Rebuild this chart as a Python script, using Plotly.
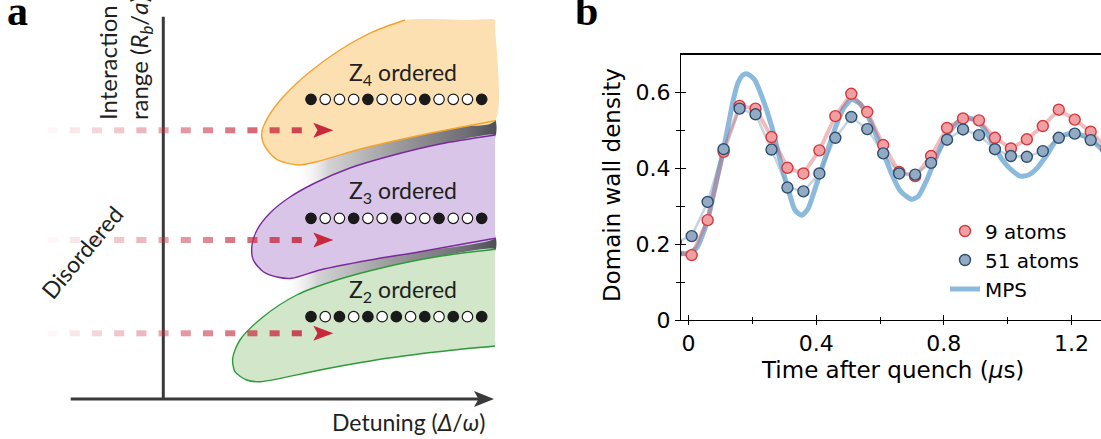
import plotly.graph_objects as go

W, H = 1101, 439

# ---------------- panel b data ----------------
T_MEAS = [-0.04, 0.01, 0.06, 0.11, 0.16, 0.21, 0.26, 0.31, 0.36, 0.41, 0.46, 0.51, 0.56, 0.61,
          0.66, 0.71, 0.76, 0.81, 0.86, 0.91, 0.96, 1.01, 1.06, 1.11, 1.16, 1.21, 1.26, 1.31]
DW_9 = [0.175, 0.171, 0.263, 0.443, 0.564, 0.557, 0.482, 0.401, 0.386, 0.447, 0.537, 0.596, 0.548, 0.461,
        0.390, 0.379, 0.432, 0.506, 0.531, 0.526, 0.480, 0.452, 0.476, 0.511, 0.554, 0.528, 0.496, 0.455]
DW_51 = [0.205, 0.221, 0.311, 0.450, 0.557, 0.542, 0.449, 0.349, 0.339, 0.386, 0.480, 0.535, 0.503, 0.439,
         0.386, 0.383, 0.414, 0.475, 0.502, 0.487, 0.450, 0.432, 0.430, 0.445, 0.480, 0.491, 0.474, 0.447]
T_MPS = [-0.03, 0.0, 0.026, 0.046, 0.062, 0.078, 0.094, 0.109, 0.125, 0.140, 0.156, 0.170, 0.182, 0.195,
         0.208, 0.234, 0.261, 0.287, 0.313, 0.334, 0.355, 0.375, 0.402, 0.433, 0.459, 0.485, 0.511, 0.537,
         0.563, 0.590, 0.616, 0.640, 0.662, 0.684, 0.699, 0.720, 0.746, 0.772, 0.798, 0.825, 0.851, 0.877,
         0.903, 0.929, 0.955, 0.981, 1.007, 1.039, 1.065, 1.091, 1.122, 1.153, 1.180, 1.206, 1.232, 1.258,
         1.292, 1.320]
DW_MPS = [0.176, 0.176, 0.190, 0.228, 0.270, 0.330, 0.390, 0.447, 0.515, 0.579, 0.627, 0.645, 0.649, 0.643,
          0.632, 0.579, 0.509, 0.421, 0.342, 0.289, 0.276, 0.294, 0.360, 0.439, 0.504, 0.557, 0.581, 0.570,
          0.535, 0.482, 0.428, 0.378, 0.342, 0.325, 0.318, 0.326, 0.368, 0.421, 0.469, 0.504, 0.526, 0.532,
          0.526, 0.500, 0.461, 0.425, 0.399, 0.379, 0.382, 0.399, 0.434, 0.474, 0.488, 0.491, 0.487, 0.478,
          0.452, 0.430]
X_TICKS = [0, 0.4, 0.8, 1.2]
X_TICK_LABELS = ["0", "0.4", "0.8", "1.2"]
X_MINOR = [0.2, 0.6, 1.0]
Y_TICKS = [0, 0.2, 0.4, 0.6]
Y_TICK_LABELS = ["0", "0.2", "0.4", "0.6"]
Y_MINOR = [0.1, 0.3, 0.5]
SERIES_NAMES = ["9 atoms", "51 atoms", "MPS"]

# ---------------- panel a schematic (pixel-like coordinates) ----------------
ORANGE = [(405, 20), (470, 20), (495, 20), (495, 26), (495, 120.7), (463.3, 126.7), (413.3, 136.7),
          (363.3, 148.3), (316.7, 161.7), (298.3, 165), (276.7, 159.3), (265, 146.7), (261.7, 133.3),
          (268.3, 116.7), (283.3, 96.7), (310, 71.7), (340, 50), (373.3, 31.7), (405, 20)]
PURPLE = [(495, 135), (440, 144), (390, 156), (350, 168), (315, 183), (290, 197), (270, 213), (257, 230),
          (252, 245), (253.3, 260), (263.3, 271.7), (278.3, 277.3), (291.7, 278.3), (320, 270),
          (370, 260), (420, 251.7), (495, 238.3), (495, 232), (495, 141), (495, 135)]
GREEN = [(495, 249.3), (436.7, 256.7), (386.7, 266.7), (336.7, 280), (296.7, 295), (263.3, 316.7),
         (240, 340), (232.7, 358.3), (235, 371.7), (246.7, 380), (260, 381.7), (320, 370), (386.7, 358.3),
         (453.3, 350), (495, 346), (495, 340), (495, 255), (495, 249.3)]
BAND1 = [(296, 167), (316.7, 160.5), (363.3, 147), (413.3, 135.5), (463.3, 125.5), (495, 119.5),
         (495, 137), (440, 146), (390, 158), (350, 170), (315, 185), (296, 193), (296, 167)]
BAND2 = [(283, 279), (320, 268.5), (370, 258.5), (420, 250), (495, 236.5),
         (495, 251), (436.7, 258.5), (386.7, 268.5), (336.7, 282), (296.7, 297), (283, 303), (283, 279)]
GRAY_SCALE = [[0, "rgba(255,255,255,0)"], [0.17, "rgb(210,210,212)"], [0.51, "rgb(155,155,158)"],
              [0.85, "rgb(110,110,116)"], [1, "rgb(78,78,86)"]]
ARROW_Y = [130.3, 240, 333.3]
DASH_X = [52.6 + 22.2 * i for i in range(12)]
DOT_X = [311 + 14.225 * i for i in range(13)]
DOT_ROWS_Y = [99.3, 218.3, 316.7]
DOT_FILLED = [
    [1, 0, 0, 0, 1, 0, 0, 0, 1, 0, 0, 0, 1],
    [1, 0, 0, 1, 0, 0, 1, 0, 0, 1, 0, 0, 1],
    [1, 0, 1, 0, 1, 0, 1, 0, 1, 0, 1, 0, 1],
]
PHASE_LABELS = ["Z<sub>4</sub> ordered", "Z<sub>3</sub> ordered", "Z<sub>2</sub> ordered"]
PHASE_LABEL_Y = [73.5, 191.5, 290]

DARK = "#231f20"
AXC = "#3a3a3a"

fig = go.Figure()


def xy(pts):
    return [p[0] for p in pts], [p[1] for p in pts]


A = dict(xaxis="x2", yaxis="y2", hoverinfo="skip", showlegend=False)

# gray gradient bands
for band in (BAND1, BAND2):
    bx, by = xy(band)
    fig.add_trace(go.Scatter(x=bx, y=by, mode="lines", line=dict(width=0, shape="spline", smoothing=0.6),
                             fill="toself",
                             fillgradient=dict(type="horizontal", colorscale=GRAY_SCALE), **A))

# blobs
for pts, fc, lc, n_curve in ((ORANGE, "#fce0b2", "#f4a32c", 4), (PURPLE, "#d9c5e7", "#7a2a9a", 3),
                             (GREEN, "#d2e6c9", "#2f9a3c", 3)):
    bx, by = xy(pts)
    fig.add_trace(go.Scatter(x=bx, y=by, mode="lines", line=dict(width=0, shape="spline", smoothing=0.8),
                             fill="toself", fillcolor=fc, **A))
    cx, cy = bx[n_curve:], by[n_curve:]
    if pts is not ORANGE:
        cx, cy = bx[:len(bx) - n_curve], by[:len(by) - n_curve]
    fig.add_trace(go.Scatter(x=cx, y=cy, mode="lines",
                             line=dict(width=1.4, color=lc, shape="spline", smoothing=0.8), **A))

# axes of the schematic
fig.add_trace(go.Scatter(x=[163.3, 163.3], y=[16.7, 399], mode="lines", line=dict(color=AXC, width=3), **A))
fig.add_trace(go.Scatter(x=[70.7, 480], y=[399, 399], mode="lines", line=dict(color=AXC, width=3), **A))
fig.add_trace(go.Scatter(x=[474, 494, 474, 478.5, 474], y=[391, 399, 407, 399, 391], mode="lines",
                         line=dict(width=0), fill="toself", fillcolor=AXC, **A))

# dashed arrows with fading dashes
dash_cols = ["rgba(200,45,65,%.3f)" % (0.04 + 0.075 * i) for i in range(len(DASH_X))]
for ay in ARROW_Y:
    fig.add_trace(go.Scatter(x=DASH_X, y=[ay] * len(DASH_X), mode="markers",
                             marker=dict(symbol="line-ew", size=7.2, color=dash_cols,
                                         line=dict(width=6, color=dash_cols)), **A))
    fig.add_trace(go.Scatter(x=[313.3, 333.3, 313.3, 317.5, 313.3], y=[ay - 7.5, ay, ay + 7.5, ay, ay - 7.5],
                             mode="lines", line=dict(width=0), fill="toself", fillcolor="#c8283c", **A))

# atom chains
for ry, filled in zip(DOT_ROWS_Y, DOT_FILLED):
    cols = ["#1a1a1a" if f else "white" for f in filled]
    fig.add_trace(go.Scatter(x=DOT_X, y=[ry] * len(DOT_X), mode="markers",
                             marker=dict(size=10.5, color=cols, line=dict(color="#1a1a1a", width=1.2)), **A))

# ---------------- panel b traces ----------------
fig.add_trace(go.Scatter(x=T_MPS, y=DW_MPS, mode="lines", name=SERIES_NAMES[2], legendrank=3,
                         line=dict(color="rgb(139,186,221)", width=5, shape="spline", smoothing=0.6)))
fig.add_trace(go.Scatter(x=T_MEAS, y=DW_9, mode="lines", showlegend=False,
                         line=dict(color="rgba(214,90,95,0.4)", width=4)))
fig.add_trace(go.Scatter(x=T_MEAS, y=DW_51, mode="lines", showlegend=False,
                         line=dict(color="rgba(120,145,170,0.4)", width=2.5)))
fig.add_trace(go.Scatter(x=T_MEAS, y=DW_9, mode="markers", name=SERIES_NAMES[0], legendrank=1,
                         marker=dict(size=11, color="rgb(240,160,163)", line=dict(color="rgb(214,56,62)", width=1.4))))
fig.add_trace(go.Scatter(x=T_MEAS, y=DW_51, mode="markers", name=SERIES_NAMES[1], legendrank=2,
                         marker=dict(size=11, color="rgb(147,171,194)", line=dict(color="rgb(45,78,114)", width=1.4))))
# dummy traces for the overlay tick axes
fig.add_trace(go.Scatter(x=[None], y=[None], xaxis="x3", yaxis="y", showlegend=False, hoverinfo="skip"))
fig.add_trace(go.Scatter(x=[None], y=[None], xaxis="x", yaxis="y3", showlegend=False, hoverinfo="skip"))

XR = [-0.0235, 1.2923]
YR = [0, 0.7]
XD = [681 / W, 1.0]
YD = [(H - 320) / H, (H - 54.3) / H]
TF = dict(family="DejaVu Sans", size=22, color="black")

fig.update_layout(
    width=W, height=H, autosize=False,
    margin=dict(l=0, r=0, t=0, b=0, pad=0, autoexpand=False),
    paper_bgcolor="white", plot_bgcolor="rgba(0,0,0,0)",
    xaxis=dict(domain=XD, range=XR, showgrid=False, zeroline=False, showline=True, linecolor="black",
               linewidth=1.3, mirror=True, ticks="outside", ticklen=3.5, tickwidth=1.3, tickcolor="black",
               tickvals=X_TICKS, ticktext=X_TICK_LABELS, tickfont=TF, anchor="y", automargin=False,
               minor=dict(tickvals=X_MINOR, ticks="outside", ticklen=2.7, tickwidth=1.1, tickcolor="black")),
    yaxis=dict(domain=YD, range=YR, showgrid=False, zeroline=False, showline=True, linecolor="black",
               linewidth=1.3, ticks="outside", ticklen=5, tickwidth=1.3, tickcolor="black",
               tickvals=Y_TICKS, ticktext=Y_TICK_LABELS, tickfont=TF, anchor="x", automargin=False,
               minor=dict(tickvals=Y_MINOR, ticks="outside", ticklen=3.7, tickwidth=1.1, tickcolor="black")),
    xaxis3=dict(overlaying="x", anchor="y", range=XR, showgrid=False, zeroline=False, showline=False,
                ticks="inside", ticklen=5, tickwidth=1.3, tickcolor="black", tickvals=X_TICKS,
                showticklabels=False, automargin=False,
                minor=dict(tickvals=X_MINOR, ticks="inside", ticklen=2.7, tickwidth=1.1, tickcolor="black")),
    yaxis3=dict(overlaying="y", anchor="x", range=YR, showgrid=False, zeroline=False, showline=False,
                ticks="inside", ticklen=5, tickwidth=1.3, tickcolor="black", tickvals=Y_TICKS,
                showticklabels=False, automargin=False,
                minor=dict(tickvals=Y_MINOR, ticks="inside", ticklen=3.7, tickwidth=1.1, tickcolor="black")),
    xaxis2=dict(domain=[0, 500 / W], range=[0, 500], visible=False, anchor="y2"),
    yaxis2=dict(domain=[0, 1], range=[H, 0], visible=False, anchor="x2"),
    legend=dict(x=945 / W, y=1 - 211.5 / H, xanchor="left", yanchor="top", bgcolor="rgba(0,0,0,0)",
                font=dict(family="DejaVu Sans", size=20, color="black"), itemwidth=30, tracegroupgap=0),
    showlegend=True,
    shapes=[dict(type="line", xref="paper", yref="paper", x0=XD[0], x1=1.0, y0=YD[1], y1=YD[1],
                 line=dict(color="black", width=1.5), layer="above")],
)

LF = dict(family="Lato", size=23, color=DARK)
ann = []
for txt, ly in zip(PHASE_LABELS, PHASE_LABEL_Y):
    ann.append(dict(x=403, y=ly, xref="x2", yref="y2", text=txt, showarrow=False, font=LF,
                    xanchor="center", yanchor="middle"))
ann.append(dict(x=408, y=421.5, xref="x2", yref="y2", text="Detuning (<i>Δ</i>/<i>ω</i>)", showarrow=False,
                font=LF, xanchor="center", yanchor="middle"))
ann.append(dict(x=125, y=122, xref="x2", yref="y2",
                text="Interaction<br>range (<i>R</i><sub><i>b</i></sub>/<i>a</i>)", showarrow=False,
                font=dict(family="Lato", size=24, color=DARK), textangle=-90, align="left",
                xanchor="center", yanchor="bottom"))
ann.append(dict(x=82, y=252, xref="x2", yref="y2", text="Disordered", showarrow=False, font=LF,
                textangle=-50, xanchor="center", yanchor="middle"))
# panel letters
ann.append(dict(x=17.5 / W, y=1 - 10.8 / H, xref="paper", yref="paper", text="<b>a</b>", showarrow=False,
                font=dict(family="Liberation Serif", size=42, color="black"), xanchor="center", yanchor="middle"))
ann.append(dict(x=586 / W, y=1 - 11.3 / H, xref="paper", yref="paper", text="<b>b</b>", showarrow=False,
                font=dict(family="Liberation Serif", size=42, color="black"), xanchor="center", yanchor="middle"))
# panel b axis titles
ann.append(dict(x=892.5 / W, y=1 - 369.5 / H, xref="paper", yref="paper", text="Time after quench (<i>μ</i>s)",
                showarrow=False, font=dict(family="DejaVu Sans", size=23, color="black"),
                xanchor="center", yanchor="middle"))
ann.append(dict(x=612 / W, y=1 - 185 / H, xref="paper", yref="paper", text="Domain wall density",
                showarrow=False, font=dict(family="DejaVu Sans", size=23, color="black"), textangle=-90,
                xanchor="center", yanchor="middle"))
fig.update_layout(annotations=ann)

fig.write_html("out.html", config={"responsive": False})
